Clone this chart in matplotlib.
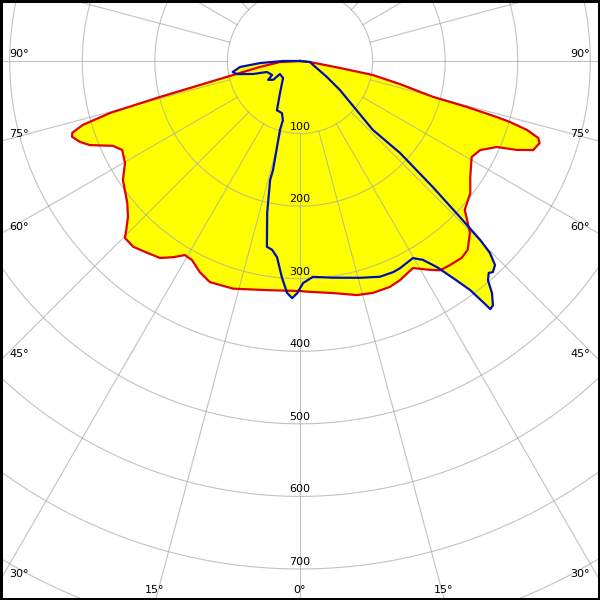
import numpy as np
import matplotlib
matplotlib.use('Agg')
import matplotlib.pyplot as plt
from matplotlib.patches import Rectangle

# Luminous intensity (cd) vs. angle from nadir (deg)
# C0-C180 plane (red)
red_angle = [-90, -87, -81.5, -78.2, -76.5, -75.6, -74.7, -73.6, -72.5, -71.6,
             -69.8, -68.2, -65.6, -63.4, -59.8, -56.1, -50.6, -47.8, -45.8, -44.7,
             -41.9, -38.6, -35.4, -32.9, -30.7, -28.5, -25.4, -22.2, -16.4, -8.2,
             0, 1.7, 8.1, 13.7, 17.5, 21.7, 24.5, 28.6, 31.9, 33.8,
             36.3, 39.4, 41.6, 44.7, 46.4, 47.9, 52.2, 55.7, 60.8, 63.7,
             66.4, 67.7, 69.1, 71.1, 72.1, 73.1, 73.8, 74.1, 74.6, 74.9,
             77, 79.1, 80.1, 84, 90]
red_cd = [0, 28, 56, 94, 142, 199, 271, 312, 329, 331,
          323, 312, 283, 274, 279, 294, 308, 320, 334, 343,
          344, 338, 333, 322, 311, 312, 322, 329, 327, 319,
          317, 318, 323, 332, 335, 335, 332, 325, 339, 347,
          349, 351, 348, 333, 318, 306, 297, 284, 271, 277,
          296, 323, 344, 349, 345, 327, 301, 282, 239, 190,
          141, 102, 56, 14, 0]

# C90-C270 plane (blue)
blue_angle = [-90, -90, -87.1, -84.3, -80.7, -78.3, -74.5, -71.6, -63.4, -59.3,
              -54.9, -57, -45, -32, -25.1, -19.1, -16.1, -16.2, -13.9, -14.1,
              -12.2, -10.1, -8.4, -6.7, -4.8, -3.2, -1.9, -0.7, 0.8, 3.4,
              8.6, 15.5, 20.3, 23.8, 25.8, 29.8, 31.7, 33.6, 35.2, 36.6,
              37.2, 37.5, 38.3, 39.6, 40.6, 41.7, 42.4, 43.7, 44.7, 45.2,
              45.7, 46.5, 47.4, 46.6, 54, 59.3, 73, 84, 90]
blue_cd = [0, 23, 55, 83, 94, 89, 67, 48, 43, 51,
           45, 33, 33, 52, 75, 76, 85, 99, 155, 169,
           214, 260, 263, 272, 299, 320, 327, 320, 306, 298,
           302, 310, 317, 318, 317, 313, 322, 341, 366, 393,
           417, 431, 429, 415, 398, 391, 394, 389, 372, 350,
           308, 252, 187, 138, 68, 43, 19, 14, 0]

ring_values = [100, 200, 300, 400, 500, 600, 700, 800, 900]
ring_labels = ['100', '200', '300', '400', '500', '600', '700']
side_angles = [30, 45, 60, 75, 90]
bottom_angles = [-15, 0, 15]


def to_xy(angle, cd):
    a = np.radians(np.asarray(angle, dtype=float))
    r = np.asarray(cd, dtype=float)
    return r * np.sin(a), -r * np.cos(a)


s = 0.7257  # px per cd
cx, cy = 300, 61  # centre in pixels
xmin, xmax = -cx / s, (600 - cx) / s
ymin, ymax = -(600 - cy) / s, cy / s

fig = plt.figure(figsize=(6, 6), dpi=100)
ax = fig.add_axes([0, 0, 1, 1])
ax.set_xlim(xmin, xmax)
ax.set_ylim(ymin, ymax)
ax.set_aspect('equal')
ax.axis('off')

grid_kw = dict(color='#a8a8a8', lw=0.8, alpha=0.7, zorder=2)

# rings
t = np.linspace(0, 2 * np.pi, 721)
for rv in ring_values:
    ax.plot(rv * np.cos(t), rv * np.sin(t), **grid_kw)

# spokes every 15 deg, starting at the first ring
for g in np.arange(-180, 180, 15):
    gx, gy = to_xy([g, g], [100, 1100])
    ax.plot(gx, gy, **grid_kw)

# curves, area under both is yellow
rx, ry = to_xy(red_angle, red_cd)
bx, by = to_xy(blue_angle, blue_cd)
ax.fill(rx, ry, color='#ffff00', zorder=1, lw=0)
ax.fill(bx, by, color='#ffff00', zorder=1, lw=0)
ax.plot(rx, ry, color='#e00000', lw=1.6, zorder=3)
ax.plot(bx, by, color='#0010b0', lw=1.6, zorder=4)

# ring labels
fs = 8
for lab in ring_labels:
    ax.text(0, -float(lab) + 4 / s, lab, ha='center', va='baseline',
            fontsize=fs, color='black', zorder=5)

# angle labels on left / right edges
for a in side_angles:
    yedge = -(cx / s) / np.tan(np.radians(a))
    ax.text(xmin + 9 / s, yedge + 4 / s, f'{a}°', ha='left', va='baseline',
            fontsize=fs, zorder=5)
    ax.text(xmax - 10 / s, yedge + 4 / s, f'{a}°', ha='right', va='baseline',
            fontsize=fs, zorder=5)

# angle labels on the bottom edge
for a in bottom_angles:
    xedge = -ymin * np.tan(np.radians(a))
    ax.text(xedge - 1 / s, ymin + 7 / s, f'{abs(a)}°', ha='center', va='baseline',
            fontsize=fs, zorder=5)

fig.patches.append(Rectangle((0, 0), 1, 1, transform=fig.transFigure,
                             fill=False, edgecolor='black', lw=3.6))

fig.savefig('out.png', dpi=100, facecolor='white')
